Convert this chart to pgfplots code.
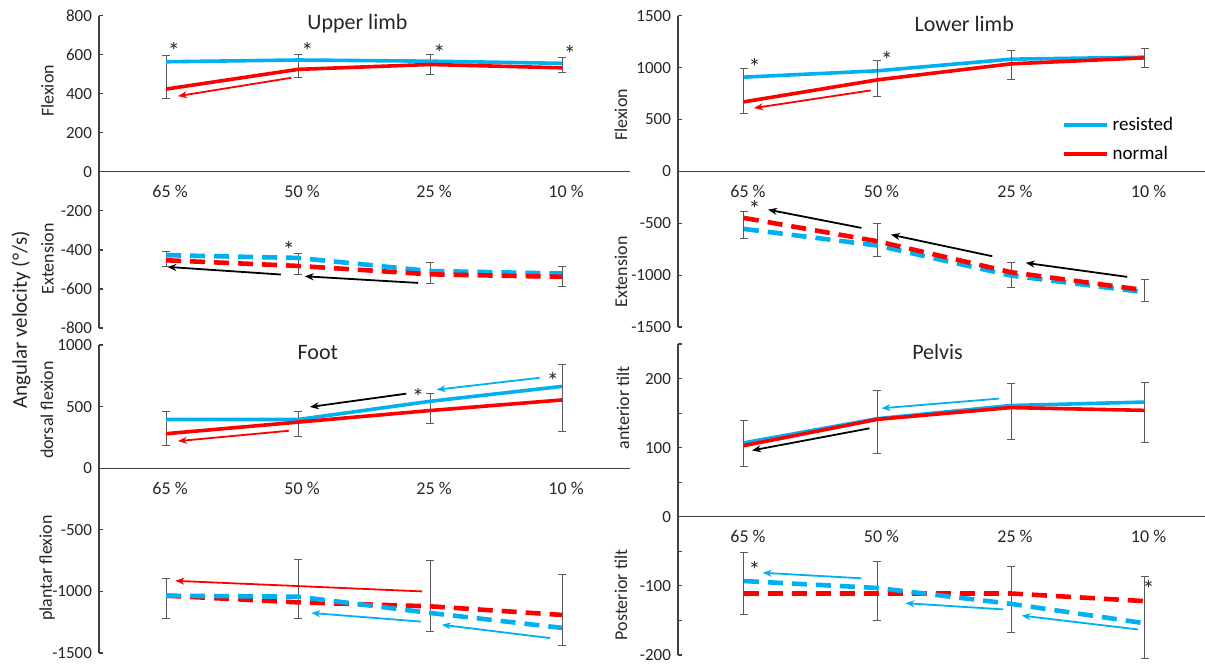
\documentclass[border=0pt]{standalone}
\usepackage{pgfplots}
\pgfplotsset{compat=1.18}
\usepackage{fontspec}
\setmainfont{Carlito}
\usetikzlibrary{arrows.meta}
\definecolor{cblue}{RGB}{0,176,240}
\definecolor{cred}{RGB}{255,0,0}
\definecolor{ebgray}{RGB}{90,90,90}
\definecolor{axgray}{RGB}{64,64,64}
\pgfplotsset{
 panel/.style={
  scale only axis, clip=false, unbounded coords=jump,
  axis y line*=left, axis x line*=middle,
  axis line style={axgray, line width=0.6pt},
  xtick={0,1,2,3}, xticklabels={65 \%,50 \%,25 \%,10 \%},
  xtick style={draw=none},
  hide obscured x ticks=false, hide obscured y ticks=false,
  xticklabel style={anchor=center, yshift=-10pt, xshift=2pt, font=\fontsize{9}{10}\selectfont, text=black!85},
  yticklabel style={font=\fontsize{8.5}{10}\selectfont, text=black!85},
  ytick style={axgray, line width=0.6pt},
  tick align=inside, major tick length=2pt,
 },
 sol/.style={line width=1.8pt, mark=none},
 das/.style={line width=2.3pt, mark=none, dash pattern=on 7.5pt off 4.5pt, forget plot},
 eb/.style={ebgray, line width=0.5pt, mark=-, mark size=2pt, mark options={solid, ebgray, line width=0.5pt}, forget plot},
}
\tikzset{
 sub/.style={rotate=90, font=\fontsize{9}{10}\selectfont, text=black!85},
 arr/.style={-{Stealth[length=4.5pt,width=3.5pt]}, line width=0.9pt},
 star/.style={font=\fontsize{12}{12}\selectfont, text=black!85},
 ttl/.style={font=\fontsize{11}{12}\selectfont, text=black!85},
}
\begin{document}
\begin{tikzpicture}
\useasboundingbox (0,0) rectangle (602.5pt,333pt);
% ---------------- Upper limb ----------------
\begin{axis}[panel, at={(49.5pt,169pt)}, anchor=south west, width=265.5pt, height=156.15pt,
  xmin=-0.508, xmax=3.515, ymin=-800, ymax=800,
  ytick={-800,-600,-400,-200,0,200,400,600,800},
  yticklabels={-800,-600,-400,-200,0,200,400,600,800}]
\addplot[eb] coordinates {(0,376) (0,595) (0,nan) (1,485) (1,602) (1,nan) (2,501) (2,603) (2,nan) (3,509) (3,585)};
\addplot[eb] coordinates {(0,-487) (0,-407) (0,nan) (1,-525) (1,-419) (1,nan) (2,-573) (2,-465) (2,nan) (3,-585) (3,-484)};
\addplot[sol, cblue, forget plot] coordinates {(0,564) (1,573) (2,567) (3,556)};
\addplot[sol, cred, forget plot] coordinates {(0,424) (1,525) (2,550) (3,533)};
\addplot[das, cblue] coordinates {(0,-427) (1,-441) (2,-508) (3,-521)};
\addplot[das, cred] coordinates {(0,-453) (1,-482) (2,-525) (3,-538)};
\node[ttl] at (axis cs:1.45,757) {Upper limb};
\node[star] at (axis cs:0.06,618) {*};
\node[star] at (axis cs:1.07,621) {*};
\node[star] at (axis cs:2.07,609) {*};
\node[star] at (axis cs:3.06,604) {*};
\node[star] at (axis cs:0.93,-399) {*};
\draw[arr, cred] (axis cs:0.95,482) -- (axis cs:0.09,388);
\draw[arr, black] (axis cs:0.87,-526) -- (axis cs:0.01,-487);
\draw[arr, black] (axis cs:1.91,-569) -- (axis cs:1.05,-535);
\end{axis}
% ---------------- Lower limb ----------------
\begin{axis}[panel, at={(339pt,169.5pt)}, anchor=south west, width=263.5pt, height=155.65pt,
  xmin=-0.494, xmax=3.453, ymin=-1500, ymax=1500,
  ytick={-1500,-1000,-500,0,500,1000,1500},
  yticklabels={-1500,-1000,-500,0,500,1000,1500},
  legend style={draw=none, fill=none, at={(0.728,0.689)}, anchor=north west, inner sep=0pt,
    font=\fontsize{9.5}{11}\selectfont, row sep=2.5pt, cells={anchor=west}},
  legend image code/.code={\draw[#1] (0pt,0pt) -- (21.5pt,0pt);}]
\addplot[sol, cblue] coordinates {(0,908) (1,969) (2,1081) (3,1100)};
\addlegendentry{resisted}
\addplot[sol, cred] coordinates {(0,670) (1,882) (2,1036) (3,1094)};
\addlegendentry{normal}
\addplot[eb] coordinates {(0,561) (0,995) (0,nan) (1,719) (1,1071) (1,nan) (2,885) (2,1165) (2,nan) (3,998) (3,1184)};
\addplot[eb] coordinates {(0,-645) (0,-385) (0,nan) (1,-818) (1,-504) (1,nan) (2,-1116) (2,-879) (2,nan) (3,-1251) (3,-1046)};
\addplot[das, cblue] coordinates {(0,-555) (1,-715) (2,-1004) (3,-1165)};
\addplot[das, cred] coordinates {(0,-449) (1,-674) (2,-972) (3,-1145)};
\node[ttl] at (axis cs:1.65,1420) {Lower limb};
\node[star] at (axis cs:0.08,1010) {*};
\node[star] at (axis cs:1.07,1074) {*};
\node[star] at (axis cs:0.08,-360) {*};
\draw[arr, cred] (axis cs:0.95,780) -- (axis cs:0.075,610);
\draw[arr, black] (axis cs:0.88,-545) -- (axis cs:0.18,-369);
\draw[arr, black] (axis cs:1.86,-818) -- (axis cs:1.1,-610);
\draw[arr, black] (axis cs:2.87,-1017) -- (axis cs:2.11,-882);
\end{axis}
% ---------------- Foot ----------------
\begin{axis}[panel, at={(49.5pt,6.5pt)}, anchor=south west, width=265.5pt, height=154pt,
  xmin=-0.508, xmax=3.515, ymin=-1500, ymax=1000,
  ytick={-1500,-1000,-500,0,500,1000},
  yticklabels={-1500,-1000,-500,0,500,1000}]
\addplot[eb] coordinates {(0,185) (0,460) (0,nan) (1,261) (1,460) (1,nan) (2,366) (2,610) (2,nan) (3,298) (3,844)};
\addplot[eb] coordinates {(0,-1223) (0,-895) (0,nan) (1,-1223) (1,-745) (1,nan) (2,-1325) (2,-753) (2,nan) (3,-1438) (3,-860)};
\addplot[sol, cblue, forget plot] coordinates {(0,395) (1,395) (2,543) (3,664)};
\addplot[sol, cred, forget plot] coordinates {(0,280) (1,374) (2,468) (3,554)};
\addplot[das, cred] coordinates {(0,-1035) (1,-1089) (2,-1121) (3,-1191)};
\addplot[das, cblue] coordinates {(0,-1035) (1,-1043) (2,-1175) (3,-1296)};
\node[ttl] at (axis cs:1.15,935) {Foot};
\node[star] at (axis cs:1.91,575) {*};
\node[star] at (axis cs:2.93,710) {*};
\draw[arr, black] (axis cs:1.82,605) -- (axis cs:1.09,497);
\draw[arr, cblue] (axis cs:2.83,734) -- (axis cs:2.05,637);
\draw[arr, cred] (axis cs:0.93,304) -- (axis cs:0.09,220);
\draw[arr, cred] (axis cs:1.94,-1000) -- (axis cs:0.07,-914);
\draw[arr, cblue] (axis cs:1.93,-1245) -- (axis cs:1.1,-1175);
\draw[arr, cblue] (axis cs:2.91,-1379) -- (axis cs:2.09,-1271);
\end{axis}
% ---------------- Pelvis ----------------
\begin{axis}[panel, at={(339pt,5.5pt)}, anchor=south west, width=263.5pt, height=155.5pt,
  xmin=-0.494, xmax=3.453, ymin=-200, ymax=250,
  ytick={-200,-100,0,100,200},
  yticklabels={-200,-100,0,100,200},
  extra y ticks={-150,-50,50,150,250}, extra y tick labels={}]
\addplot[eb] coordinates {(0,73) (0,139) (0,nan) (1,91) (1,183) (1,nan) (2,112) (2,193) (2,nan) (3,108) (3,194)};
\addplot[eb] coordinates {(0,-141) (0,-52) (0,nan) (1,-150) (1,-64) (1,nan) (2,-168) (2,-72) (2,nan) (3,-205) (3,-87)};
\addplot[sol, cblue, forget plot] coordinates {(0,107) (1,142) (2,161) (3,166)};
\addplot[sol, cred, forget plot] coordinates {(0,103) (1,141) (2,158) (3,154)};
\addplot[das, cred] coordinates {(0,-111) (1,-111) (2,-111) (3,-122)};
\addplot[das, cblue] coordinates {(0,-93) (1,-103) (2,-126) (3,-154)};
\node[ttl] at (axis cs:1.45,238) {Pelvis};
\node[star] at (axis cs:0.08,-77) {*};
\node[star] at (axis cs:3.03,-105) {*};
\draw[arr, cblue] (axis cs:1.91,171) -- (axis cs:1.03,157);
\draw[arr, black] (axis cs:0.94,128) -- (axis cs:0.06,96);
\draw[arr, cblue] (axis cs:0.88,-89) -- (axis cs:0.14,-81);
\draw[arr, cblue] (axis cs:1.94,-134) -- (axis cs:1.21,-125);
\draw[arr, cblue] (axis cs:2.95,-163) -- (axis cs:2.08,-143);
\end{axis}
% ---------------- labels ----------------
\node[rotate=90, font=\fontsize{10.5}{12}\selectfont, text=black!85] at (10.5pt,173pt) {Angular velocity (°/s)};
\node[sub] at (23.75pt,287.5pt) {Flexion};
\node[sub] at (23.75pt,203.5pt) {Extension};
\node[sub] at (23.5pt,128pt) {dorsal flexion};
\node[sub] at (23.5pt,49pt) {plantar flexion};
\node[sub] at (310.5pt,275.5pt) {Flexion};
\node[sub] at (310.5pt,197pt) {Extension};
\node[sub] at (311.5pt,129pt) {anterior tilt};
\node[sub] at (310.5pt,35.5pt) {Posterior tilt};
\end{tikzpicture}
\end{document}
